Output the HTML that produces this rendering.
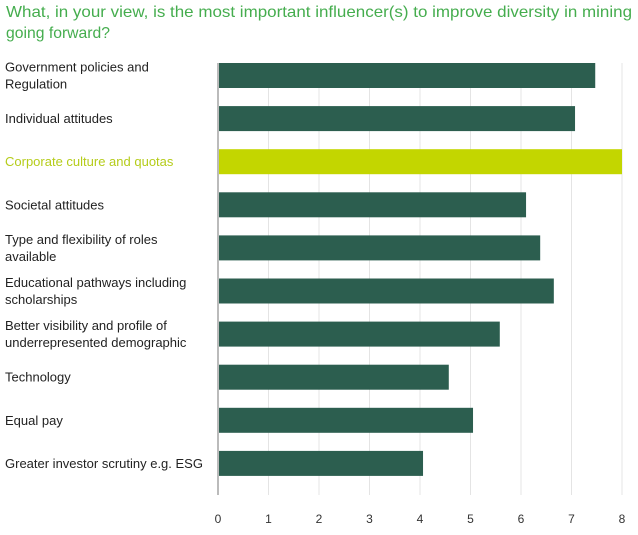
<!DOCTYPE html>
<html><head><meta charset="utf-8"><style>
body{margin:0;background:#fff;width:638px;height:530px;overflow:hidden;font-family:"Liberation Sans",sans-serif}
</style></head><body>
<svg width="638" height="530" id="c">
<text x="6" y="17" font-size="16" fill="#45ad4e" textLength="626" lengthAdjust="spacingAndGlyphs">What, in your view, is the most important influencer(s) to improve diversity in mining</text>
<text x="6" y="38" font-size="16" fill="#45ad4e" textLength="104" lengthAdjust="spacingAndGlyphs">going forward?</text>
</svg>
<script>
const categories=[["Government policies and","Regulation"],["Individual attitudes"],["Corporate culture and quotas"],["Societal attitudes"],["Type and flexibility of roles","available"],["Educational pathways including","scholarships"],["Better visibility and profile of","underrepresented demographic"],["Technology"],["Equal pay"],["Greater investor scrutiny e.g. ESG"]];
const values=[7.47,7.07,8,6.1,6.38,6.65,5.58,4.57,5.05,4.06];
const highlight=[false,false,true,false,false,false,false,false,false,false];
const ticks=[0,1,2,3,4,5,6,7,8];
const svg=document.getElementById('c');const NS='http://www.w3.org/2000/svg';
const x=v=>218+v*50.5;
const yTop=i=>63+i*43.1;
function mk(t,a){const e=document.createElementNS(NS,t);for(const k in a)e.setAttribute(k,a[k]);svg.appendChild(e);return e;}
ticks.forEach(t=>{
 if(t>0){const g=mk('line',{x1:x(t),x2:x(t),y1:63,y2:495,stroke:'#e4e4e4','stroke-width':1});
 
 }
 const l=mk('text',{x:x(t),y:523,'font-size':12,fill:'#333','text-anchor':'middle'});l.textContent=t;
 
 
});
values.forEach((v,i)=>{
 const b=mk('rect',{x:x(0),y:yTop(i),width:x(v)-x(0),height:25,fill:highlight[i]?'#c3d600':'#2c5e4f'});
 
 
 const lines=categories[i];const cy=yTop(i)+12.5;
 lines.forEach((s,j)=>{
  const t=mk('text',{x:5,y:cy+4.5+(lines.length==2?(j?8.5:-8.5):0),'font-size':13,fill:highlight[i]?'#b5cc1a':'#222'});t.textContent=s;
  
  
 });
});
const ax=mk('line',{x1:x(0),x2:x(0),y1:63,y2:495,stroke:'#bbb','stroke-width':2});


</script>
</body></html>
